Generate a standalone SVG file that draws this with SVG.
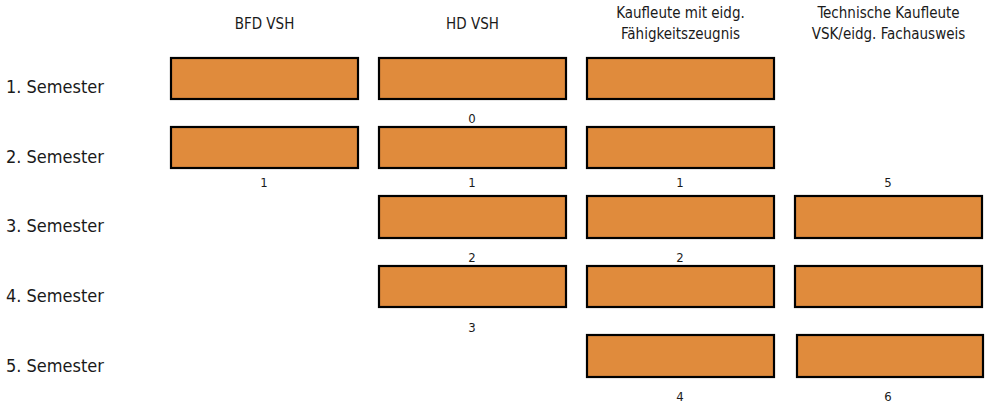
<svg xmlns="http://www.w3.org/2000/svg" width="987" height="403" viewBox="0 0 987 403">
<style>
  .box { fill: #E08B3C; stroke: #000; stroke-width: 2.2; }
  text { font-family: "DejaVu Sans Condensed", "DejaVu Sans", sans-serif; font-stretch: condensed; fill: #1a1a1a; }
  .hdr { font-size: 15px; text-anchor: middle; }
  .row { font-size: 18px; }
  .num { font-size: 13px; text-anchor: middle; }
</style>
<rect width="987" height="403" fill="#fff"/>
<g id="headers">
  <text class="hdr" x="264.5" y="29.3">BFD VSH</text>
  <text class="hdr" x="472.5" y="29.3">HD VSH</text>
  <text class="hdr" x="680.5" y="17.5">Kaufleute mit eidg.</text>
  <text class="hdr" x="680.5" y="39.3">Fähigkeitszeugnis</text>
  <text class="hdr" x="888.5" y="17.5">Technische Kaufleute</text>
  <text class="hdr" x="888.5" y="39.3">VSK/eidg. Fachausweis</text>
</g>
<g id="row-labels">
  <text class="row" x="6" y="93">1. Semester</text>
  <text class="row" x="6" y="162.5">2. Semester</text>
  <text class="row" x="6" y="232.3">3. Semester</text>
  <text class="row" x="6" y="302.3">4. Semester</text>
  <text class="row" x="6" y="371.7">5. Semester</text>
</g>
<g id="bfd-s1"><rect class="box" x="171" y="58" width="187" height="41"/></g>
<g id="bfd-s2"><rect class="box" x="171" y="127" width="187" height="41"/></g>
<g id="hd-s1"><rect class="box" x="379" y="58" width="187" height="41"/></g>
<g id="hd-s2"><rect class="box" x="379" y="127" width="187" height="41"/></g>
<g id="hd-s3"><rect class="box" x="379" y="196" width="187" height="42"/></g>
<g id="hd-s4"><rect class="box" x="379" y="266" width="187" height="41"/></g>
<g id="kf-s1"><rect class="box" x="587" y="58" width="187" height="41"/></g>
<g id="kf-s2"><rect class="box" x="587" y="127" width="187" height="41"/></g>
<g id="kf-s3"><rect class="box" x="587" y="196" width="187" height="42"/></g>
<g id="kf-s4"><rect class="box" x="587" y="266" width="187" height="41"/></g>
<g id="kf-s5"><rect class="box" x="587" y="335" width="187" height="42"/></g>
<g id="tk-s3"><rect class="box" x="795" y="196" width="187" height="42"/></g>
<g id="tk-s4"><rect class="box" x="795" y="266" width="187" height="41"/></g>
<g id="tk-s5"><rect class="box" x="797" y="335" width="186" height="42"/></g>
<g id="numbers">
  <text class="num" x="472" y="122.7">0</text>
  <text class="num" x="264" y="186.7">1</text>
  <text class="num" x="472" y="186.7">1</text>
  <text class="num" x="680" y="186.7">1</text>
  <text class="num" x="888" y="186.7">5</text>
  <text class="num" x="472" y="262">2</text>
  <text class="num" x="680" y="262">2</text>
  <text class="num" x="472" y="331.7">3</text>
  <text class="num" x="680" y="401">4</text>
  <text class="num" x="888" y="401">6</text>
</g>
<g id="connectors"/>
</svg>
